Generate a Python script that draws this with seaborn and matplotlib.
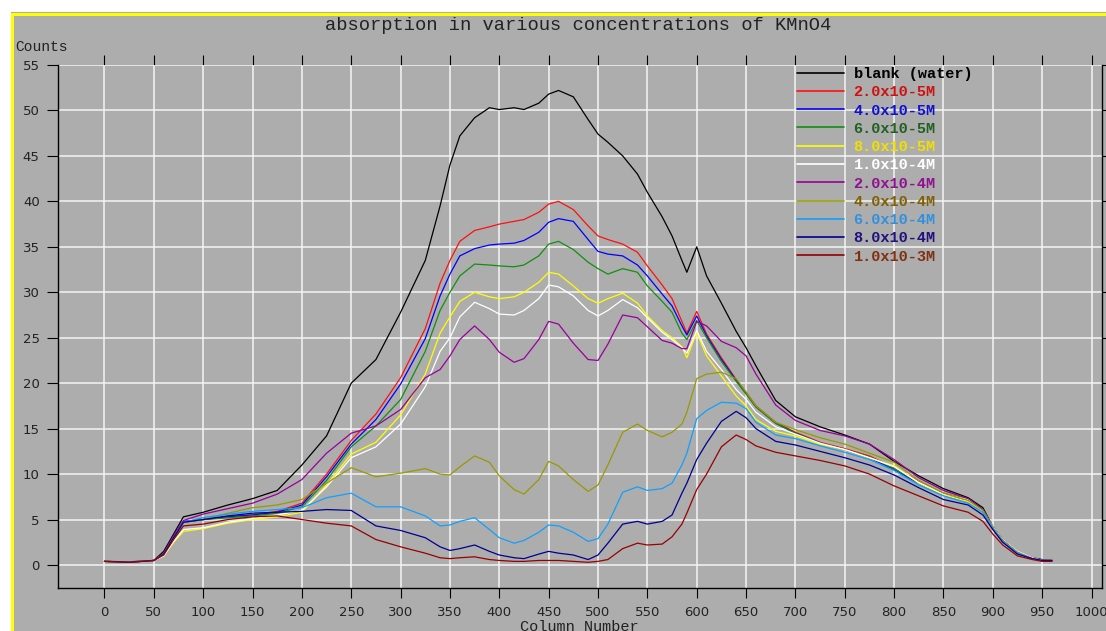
import numpy as np
import pandas as pd
import matplotlib
matplotlib.use("Agg")
import matplotlib.pyplot as plt
from matplotlib.lines import Line2D
from matplotlib.patches import Rectangle
import seaborn as sns

# ---------------- data ----------------
column = [0, 25, 50, 60, 70, 80, 100, 125, 150, 175, 200, 225, 250, 275, 300,
          325, 340, 350, 360, 375, 390, 400, 415, 425, 440, 450, 460, 475, 490, 500,
          510, 525, 540, 550, 565, 575, 585, 590, 600, 610, 625, 640, 650, 660, 680,
          700, 725, 750, 775, 800, 825, 850, 875, 890, 900, 910, 925, 940, 950, 960]

blank = [0.4, 0.35, 0.5, 1.5, 3.4, 5.3, 5.8, 6.6, 7.3, 8.2, 11.0, 14.2, 20.0, 22.6, 27.8,
         33.5, 39.5, 44.0, 47.2, 49.2, 50.3, 50.1, 50.3, 50.1, 50.8, 51.8, 52.2, 51.5, 49.0, 47.4,
         46.5, 45.0, 43.0, 41.0, 38.3, 36.2, 33.5, 32.2, 35.0, 31.8, 28.8, 25.7, 23.9, 21.9, 18.1,
         16.3, 15.2, 14.3, 13.3, 11.4, 9.8, 8.4, 7.4, 6.3, 4.2, 2.8, 1.4, 0.8, 0.6, 0.5]
c_2e5 = [0.4, 0.3, 0.5, 1.2, 3.0, 4.7, 5.0, 5.3, 5.5, 5.9, 6.8, 10.0, 13.7, 16.6, 20.6,
         26.0, 31.0, 33.5, 35.6, 36.8, 37.2, 37.5, 37.8, 38.0, 38.8, 39.7, 40.0, 39.1, 37.3, 36.2,
         35.8, 35.3, 34.4, 32.9, 30.8, 29.3, 26.8, 25.5, 27.9, 25.4, 22.8, 20.4, 19.0, 17.5, 15.7,
         14.6, 13.5, 12.8, 12.0, 10.7, 9.2, 7.9, 7.2, 6.0, 4.1, 2.8, 1.4, 0.7, 0.5, 0.5]
c_4e5 = [0.4, 0.3, 0.5, 1.2, 3.0, 4.8, 5.0, 5.3, 5.5, 5.8, 6.6, 9.7, 13.3, 16.0, 19.9,
         24.9, 29.6, 32.0, 34.0, 34.8, 35.2, 35.3, 35.4, 35.7, 36.6, 37.7, 38.1, 37.8, 35.8, 34.5,
         34.2, 34.0, 33.0, 31.8, 29.8, 28.5, 26.3, 25.3, 27.4, 25.2, 22.6, 20.3, 18.9, 17.4, 15.6,
         14.5, 13.4, 12.7, 11.8, 10.5, 9.0, 7.7, 7.1, 5.9, 4.0, 2.6, 1.3, 0.7, 0.5, 0.5]
c_6e5 = [0.4, 0.3, 0.5, 1.2, 3.0, 4.7, 5.0, 5.2, 5.4, 5.7, 6.4, 9.3, 13.0, 15.3, 18.2,
         23.5, 28.0, 30.0, 31.8, 33.1, 33.0, 32.9, 32.8, 33.0, 34.0, 35.3, 35.6, 34.7, 33.3, 32.6,
         32.0, 32.6, 32.2, 30.7, 29.0, 27.8, 25.5, 24.8, 26.9, 25.0, 22.4, 20.2, 18.8, 17.4, 15.6,
         14.5, 13.4, 12.7, 11.9, 10.6, 9.1, 7.8, 7.3, 6.1, 4.2, 2.8, 1.4, 0.7, 0.5, 0.5]
c_8e5 = [0.4, 0.3, 0.5, 1.0, 2.5, 3.7, 4.0, 4.6, 5.0, 5.3, 5.8, 8.8, 12.2, 13.5, 16.5,
         21.0, 25.5, 27.3, 29.0, 30.0, 29.5, 29.3, 29.5, 30.0, 31.1, 32.2, 32.0, 30.7, 29.3, 28.8,
         29.3, 29.9, 28.8, 27.4, 25.8, 25.0, 24.0, 22.8, 25.6, 23.0, 20.8, 18.6, 17.5, 16.0, 14.7,
         14.2, 13.3, 12.7, 11.8, 10.9, 9.0, 7.7, 7.0, 5.9, 4.1, 2.7, 1.4, 0.7, 0.5, 0.5]
c_1e4 = [0.4, 0.3, 0.5, 1.0, 2.6, 3.9, 4.1, 4.7, 5.1, 5.5, 6.0, 8.6, 11.8, 13.0, 15.5,
         19.6, 23.5, 25.0, 27.3, 28.9, 28.2, 27.6, 27.5, 28.0, 29.3, 30.8, 30.6, 29.6, 28.0, 27.4,
         28.0, 29.2, 28.3, 27.2, 25.6, 24.8, 23.9, 23.3, 25.8, 23.5, 21.5, 19.3, 18.2, 16.8, 15.2,
         14.4, 13.4, 12.7, 11.8, 10.8, 9.1, 7.8, 7.2, 6.0, 4.2, 2.8, 1.5, 0.8, 0.5, 0.5]
c_2e4 = [0.4, 0.3, 0.5, 1.3, 3.2, 4.9, 5.6, 6.2, 6.8, 7.8, 9.4, 12.3, 14.5, 15.3, 17.1,
         20.6, 21.5, 23.0, 24.8, 26.3, 24.8, 23.4, 22.3, 22.7, 24.8, 26.8, 26.5, 24.4, 22.6, 22.5,
         24.3, 27.5, 27.2, 26.2, 24.7, 24.4, 23.8, 23.8, 26.8, 26.3, 24.6, 23.9, 23.0, 21.0, 17.6,
         15.9, 14.8, 14.2, 13.3, 11.6, 9.6, 8.2, 7.3, 6.1, 4.1, 2.7, 1.4, 0.7, 0.5, 0.5]
c_4e4 = [0.4, 0.3, 0.5, 1.2, 3.0, 4.7, 5.0, 5.7, 6.3, 6.6, 7.2, 9.0, 10.7, 9.7, 10.1,
         10.6, 10.0, 9.9, 10.8, 12.0, 11.3, 9.8, 8.3, 7.8, 9.4, 11.4, 10.9, 9.4, 8.1, 8.8,
         11.0, 14.6, 15.5, 14.8, 14.1, 14.6, 15.5, 16.8, 20.5, 21.0, 21.2, 20.5, 19.0, 17.5, 15.7,
         14.9, 14.0, 13.3, 12.3, 11.3, 9.3, 7.9, 7.1, 6.0, 4.1, 2.7, 1.4, 0.7, 0.5, 0.5]
c_6e4 = [0.4, 0.3, 0.5, 1.2, 3.0, 4.7, 5.2, 5.6, 5.9, 6.1, 6.3, 7.4, 7.9, 6.4, 6.4,
         5.4, 4.3, 4.4, 4.8, 5.2, 3.9, 3.0, 2.4, 2.7, 3.6, 4.4, 4.3, 3.6, 2.6, 2.9,
         4.5, 8.0, 8.6, 8.2, 8.4, 9.0, 11.0, 12.3, 16.1, 17.0, 17.9, 17.8, 17.2, 15.7, 14.3,
         13.9, 13.1, 12.4, 11.6, 10.4, 8.8, 7.6, 6.8, 5.8, 4.0, 2.6, 1.3, 0.7, 0.5, 0.5]
c_8e4 = [0.4, 0.3, 0.5, 1.2, 3.0, 4.7, 5.0, 5.4, 5.7, 5.8, 5.9, 6.1, 6.0, 4.3, 3.8,
         3.0, 2.0, 1.6, 1.8, 2.2, 1.5, 1.1, 0.8, 0.7, 1.2, 1.5, 1.3, 1.1, 0.6, 1.1,
         2.4, 4.5, 4.8, 4.5, 4.8, 5.5, 7.9, 9.0, 11.6, 13.4, 15.8, 16.9, 16.2, 15.0, 13.6,
         13.2, 12.5, 11.8, 11.0, 9.9, 8.5, 7.2, 6.6, 5.5, 3.9, 2.5, 1.2, 0.7, 0.5, 0.5]
c_1e3 = [0.4, 0.3, 0.5, 1.1, 2.8, 4.3, 4.5, 5.0, 5.3, 5.4, 5.0, 4.6, 4.3, 2.8, 2.0,
         1.3, 0.8, 0.7, 0.8, 0.9, 0.6, 0.5, 0.4, 0.4, 0.5, 0.5, 0.5, 0.4, 0.3, 0.4,
         0.6, 1.8, 2.4, 2.2, 2.3, 3.1, 4.5, 5.7, 8.3, 10.0, 13.0, 14.3, 13.8, 13.1, 12.4,
         12.0, 11.5, 10.9, 10.0, 8.7, 7.6, 6.5, 5.8, 4.8, 3.4, 2.2, 1.0, 0.6, 0.4, 0.4]

labels = ["blank (water)", "2.0x10-5M", "4.0x10-5M", "6.0x10-5M", "8.0x10-5M",
          "1.0x10-4M", "2.0x10-4M", "4.0x10-4M", "6.0x10-4M", "8.0x10-4M", "1.0x10-3M"]
series = [blank, c_2e5, c_4e5, c_6e5, c_8e5, c_1e4, c_2e4, c_4e4, c_6e4, c_8e4, c_1e3]
line_colors = ["#000000", "#ff1010", "#0000ff", "#109010", "#ffff00", "#ffffff",
               "#990099", "#999900", "#10a0ff", "#000090", "#990000"]
text_colors = ["#000000", "#d01010", "#1010d0", "#206020", "#f0e000", "#ffffff",
               "#901090", "#806000", "#3090e0", "#201080", "#803010"]

x_ticks = list(range(0, 1001, 50))
y_ticks = list(range(0, 56, 5))

# ---------------- styling ----------------
BG = "#adadad"
W, H = 1106, 631
sns.set_theme(style="whitegrid", rc={"axes.facecolor": BG, "figure.facecolor": BG,
                                     "grid.color": "#f4f4f4", "grid.linewidth": 1.1})
plt.rcParams["font.family"] = ["DejaVu Sans"]

fig = plt.figure(figsize=(W / 100, H / 100), dpi=100, facecolor=BG)
ax_l, ax_r, ax_t, ax_b = 57.7, 1101.7, 65.0, 588.0
ax = fig.add_axes([ax_l / W, (H - ax_b) / H, (ax_r - ax_l) / W, (ax_b - ax_t) / H])
ax.set_facecolor(BG)

records = []
for lab, vals in zip(labels, series):
    for xv, yv in zip(column, vals):
        records.append((lab, xv, yv))
df = pd.DataFrame(records, columns=["series", "column", "counts"])

sns.lineplot(data=df, x="column", y="counts", hue="series", hue_order=labels,
             palette=dict(zip(labels, line_colors)), estimator=None, sort=False,
             linewidth=0.9, legend=False, ax=ax)

ax.set_xlim(-47.4, 1010.3)
ax.set_ylim(-2.53, 55)
ax.set_xticks(x_ticks)
ax.set_yticks(y_ticks)
ax.set_xlabel("")
ax.set_ylabel("")
ax.grid(True, color="#f4f4f4", linewidth=1.1)
ax.set_axisbelow(True)
for s in ["left", "bottom", "right"]:
    ax.spines[s].set_visible(True)
    ax.spines[s].set_color("black")
    ax.spines[s].set_linewidth(1.0)
ax.spines["top"].set_visible(False)
ax.tick_params(axis="x", which="major", bottom=True, top=True, labelbottom=True,
               labeltop=False, direction="out", length=7, width=0.8, color="black",
               labelsize=9.5, labelcolor="#222222", pad=6)
ax.tick_params(axis="y", which="major", left=True, right=True, labelleft=True,
               labelright=False, direction="out", length=8, width=0.8, color="black",
               labelsize=9.5, labelcolor="#222222", pad=5)

# ---------------- texts ----------------
mono = ["Liberation Mono", "DejaVu Sans Mono"]
fig.text(578 / W, 1 - 25 / H, "absorption in various concentrations of KMnO4",
         ha="center", va="center", family=mono, fontsize=13.5, color="#222222")
fig.text(15 / W, 1 - 47 / H, "Counts", ha="left", va="center", family=mono,
         fontsize=10.5, color="#222222")
fig.text(579 / W, 1 - 620 / H, "Column Number", ha="center", va="top", family=mono,
         fontsize=11, color="#222222")

# ---------------- legend ----------------
handles = [Line2D([0], [0], color=c, lw=1.2) for c in line_colors]
leg = fig.legend(handles, labels, loc="upper left", bbox_to_anchor=(797 / W, 1 - 67 / H),
                 frameon=False, prop={"family": mono, "weight": "bold", "size": 11},
                 handlelength=3.1, handletextpad=0.6, labelspacing=0.28,
                 borderpad=0, borderaxespad=0, labelcolor=text_colors)

# ---------------- window frame ----------------
fig.patches.append(Rectangle((0, 1 - 12 / H), 1, 12 / H, transform=fig.transFigure,
                             facecolor="white", edgecolor="none", zorder=5))
fig.patches.append(Rectangle((0, 0), 11 / W, 1, transform=fig.transFigure,
                             facecolor="white", edgecolor="none", zorder=5))
fig.patches.append(Rectangle((11 / W, 1 - 15.5 / H), 1, 3 / H, transform=fig.transFigure,
                             facecolor="#ffff00", edgecolor="none", zorder=6))
fig.patches.append(Rectangle((11 / W, 0), 3 / W, 1 - 12.5 / H, transform=fig.transFigure,
                             facecolor="#ffff00", edgecolor="none", zorder=6))

fig.savefig("out.png", dpi=100, facecolor=fig.get_facecolor())
